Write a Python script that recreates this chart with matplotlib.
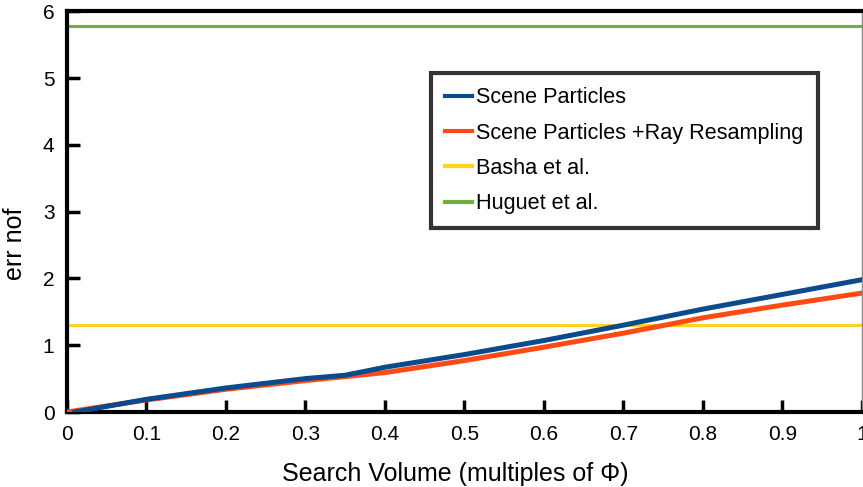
import matplotlib.pyplot as plt

# --- data ---
x_vals = [0.01, 0.1, 0.2, 0.3, 0.35, 0.4, 0.5, 0.6, 0.7, 0.8, 0.9, 1.0]
scene_particles = [0.0, 0.19, 0.36, 0.50, 0.55, 0.67, 0.86, 1.07, 1.30, 1.54, 1.76, 1.98]
x_vals_rr = [0.0, 0.1, 0.2, 0.3, 0.4, 0.5, 0.6, 0.7, 0.8, 0.9, 1.0]
ray_resampling = [0.0, 0.18, 0.34, 0.47, 0.59, 0.77, 0.97, 1.18, 1.41, 1.60, 1.78]
basha = 1.30
huguet = 5.78

x_ticks = [0, 0.1, 0.2, 0.3, 0.4, 0.5, 0.6, 0.7, 0.8, 0.9, 1]
x_tick_labels = ['0', '0.1', '0.2', '0.3', '0.4', '0.5', '0.6', '0.7', '0.8', '0.9', '1']
y_ticks = [0, 1, 2, 3, 4, 5, 6]

plt.rcParams['font.family'] = ['Liberation Sans', 'DejaVu Sans']

fig = plt.figure(figsize=(8.63, 4.87), dpi=100)
ax = fig.add_axes([0.0776, 0.154, 0.921, 0.823])

ax.plot(x_vals, scene_particles, color='#0b4a8c', lw=3.6, label='Scene Particles', zorder=4)
ax.plot(x_vals_rr, ray_resampling, color='#ff4a14', lw=3.6,
        label='Scene Particles +Ray Resampling', zorder=3)
ax.axhline(basha, color='#ffd320', lw=2.2, label='Basha et al.', zorder=2)
ax.axhline(huguet, color='#72ad3e', lw=2.2, label='Huguet et al.', zorder=2)

ax.set_xlim(0, 1)
ax.set_ylim(0, 6)
ax.set_xticks(x_ticks)
ax.set_xticklabels(x_tick_labels)
ax.set_yticks(y_ticks)
ax.tick_params(direction='in', length=9, width=2.5, labelsize=15, pad=9, color='black')

for side in ['left', 'bottom', 'top']:
    ax.spines[side].set_linewidth(3)
    ax.spines[side].set_color('black')
ax.spines['right'].set_linewidth(1)
ax.spines['right'].set_color('#888888')

ax.set_xlabel('Search Volume (multiples of Φ)', fontsize=18)
ax.set_ylabel('err nof', fontsize=18)
ax.xaxis.set_label_coords(0.489, -0.125)
ax.yaxis.set_label_coords(-0.05, 0.42)

leg = ax.legend(loc='upper left', bbox_to_anchor=(0.458, 0.845), borderaxespad=0,
                fontsize=15.6, handlelength=1.25, handletextpad=0.2, labelspacing=0.66,
                borderpad=0.65, frameon=True, fancybox=False)
leg.get_frame().set_edgecolor('black')
leg.get_frame().set_linewidth(3)
for line in leg.get_lines():
    line.set_linewidth(3)

fig.savefig('out.png', dpi=100)
